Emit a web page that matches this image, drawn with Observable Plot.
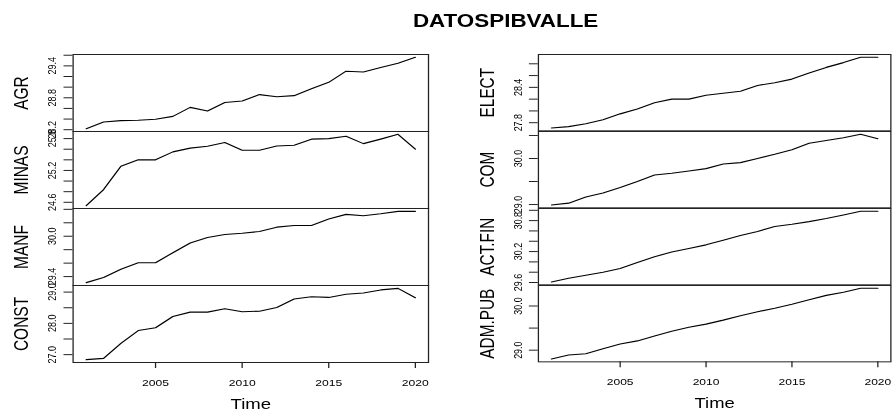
<!DOCTYPE html>
<html>
<head>
<meta charset="utf-8">
<script src="https://cdn.jsdelivr.net/npm/d3@7"></script>
<script src="https://cdn.jsdelivr.net/npm/@observablehq/plot@0.6"></script>
<style>
  html, body { margin: 0; padding: 0; background: #fff; overflow: hidden; }
  #chart {
    position: relative;
    width: 697px;
    height: 412px;
    transform: scaleX(1.28);
    transform-origin: 0 0;
    font-family: "Liberation Sans", Arial, sans-serif;
    color: #000;
  }
  #title {
    position: absolute;
    top: 13px;
    left: 0;
    width: 790px;
    text-align: center;
    font-size: 17.5px;
    line-height: 17.5px;
    font-weight: bold;
  }
  .panel { position: absolute; }
</style>
</head>
<body>
<div id="chart">
  <div id="title">DATOSPIBVALLE</div>
</div>
<script>
// Annual series (log scale), 2001–2020
const years = [2001, 2002, 2003, 2004, 2005, 2006, 2007, 2008, 2009, 2010,
               2011, 2012, 2013, 2014, 2015, 2016, 2017, 2018, 2019, 2020];

const AGR    = [28.22, 28.345, 28.37, 28.377, 28.396, 28.45, 28.62, 28.55, 28.71, 28.74,
                28.86, 28.82, 28.84, 28.97, 29.09, 29.30, 29.285, 29.37, 29.45, 29.56];
const MINAS  = [24.537, 24.84, 25.28, 25.40, 25.40, 25.55, 25.62, 25.655, 25.725, 25.58,
                25.58, 25.66, 25.675, 25.79, 25.80, 25.845, 25.705, 25.79, 25.88, 25.60];
const MANF   = [29.31, 29.385, 29.51, 29.605, 29.605, 29.755, 29.90, 29.98, 30.025, 30.045,
                30.07, 30.135, 30.16, 30.16, 30.255, 30.325, 30.305, 30.335, 30.37, 30.37];
const CONST  = [26.84, 26.88, 27.36, 27.77, 27.86, 28.22, 28.36, 28.36, 28.47, 28.37,
                28.39, 28.51, 28.78, 28.85, 28.83, 28.93, 28.97, 29.07, 29.12, 28.82];
const ELECT  = [27.71, 27.733, 27.783, 27.85, 27.95, 28.033, 28.14, 28.20, 28.20, 28.267,
                28.30, 28.333, 28.433, 28.478, 28.54, 28.644, 28.739, 28.82, 28.91, 28.91];
const COM    = [28.99, 29.03, 29.165, 29.25, 29.37, 29.50, 29.64, 29.68, 29.73, 29.78,
                29.88, 29.91, 30.00, 30.09, 30.19, 30.33, 30.39, 30.45, 30.525, 30.43];
const ACTFIN = [29.61, 29.683, 29.74, 29.80, 29.87, 29.99, 30.10, 30.19, 30.26, 30.33,
                30.42, 30.51, 30.59, 30.686, 30.73, 30.78, 30.84, 30.91, 30.98, 30.98];
const ADMPUB = [28.80, 28.89, 28.92, 29.03, 29.14, 29.21, 29.32, 29.43, 29.52, 29.59,
                29.68, 29.78, 29.87, 29.95, 30.04, 30.14, 30.24, 30.31, 30.40, 30.40];

// Tick positions and the subset that carries a label
const agrTicks    = [28.2, 28.4, 28.6, 28.8, 29.0, 29.2, 29.4, 29.6];
const agrLabels   = [28.2, 28.8, 29.4];
const minasTicks  = [24.6, 24.8, 25.0, 25.2, 25.4, 25.6, 25.8];
const minasLabels = [24.6, 25.2, 25.8];
const manfTicks   = [29.4, 29.6, 29.8, 30.0, 30.2, 30.4];
const manfLabels  = [29.4, 30.0];
const constTicks  = [27.0, 27.5, 28.0, 28.5, 29.0];
const constLabels = [27.0, 28.0, 29.0];
const electTicks  = [27.8, 28.0, 28.2, 28.4, 28.6, 28.8];
const electLabels = [27.8, 28.4];
const comTicks    = [29.0, 29.5, 30.0, 30.5];
const comLabels   = [29.0, 30.0];
const actfinTicks = [29.6, 29.8, 30.0, 30.2, 30.4, 30.6, 30.8, 31.0];
const actfinLabels= [29.6, 30.2, 30.8];
const admTicks    = [29.0, 29.5, 30.0];
const admLabels   = [29.0, 30.0];

const yearTicks = [2005, 2010, 2015, 2020];

const columns = [
  [["AGR", AGR, agrTicks, agrLabels],
   ["MINAS", MINAS, minasTicks, minasLabels],
   ["MANF", MANF, manfTicks, manfLabels],
   ["CONST", CONST, constTicks, constLabels]],
  [["ELECT", ELECT, electTicks, electLabels],
   ["COM", COM, comTicks, comLabels],
   ["ACT.FIN", ACTFIN, actfinTicks, actfinLabels],
   ["ADM.PUB", ADMPUB, admTicks, admLabels]]
];

// Layout (pre-stretch units)
const ML = 56.6, MR = 2, MT = 1;
const frameW = 277.7;
const panelH = 77;
const firstTop = 54;
const colLeft = [0, 363.5];
const fmt = d3.format(".1f");
const pad = 0.04;

function padded([a, b]) {
  const d = (b - a) * pad;
  return [a - d, b + d];
}

const chart = document.getElementById("chart");

columns.forEach((panels, c) => {
  panels.forEach(([name, values, ticks, labels], r) => {
    const bottom = r === panels.length - 1;
    const MB = bottom ? 49 : 1;
    const marks = [
      Plot.frame({stroke: "#222", strokeWidth: 1}),
      Plot.axisY({ticks, tickSize: 7, tickFormat: () => "", stroke: "#222"}),
      Plot.text(labels, {
        y: d => d, text: d => fmt(d), frameAnchor: "left", dx: -16,
        rotate: -90, textAnchor: "middle", lineAnchor: "middle", fontSize: 9, fill: "#000"
      }),
      Plot.text([name], {
        frameAnchor: "left", dx: -40, rotate: -90,
        textAnchor: "middle", lineAnchor: "middle", fontSize: 15.5, fill: "#000"
      }),
      Plot.line(years, {x: years, y: values, stroke: "#000", strokeWidth: 1.1})
    ];
    if (bottom) {
      marks.push(
        Plot.axisX({ticks: yearTicks, tickSize: 6, tickPadding: 10.8, tickFormat: d3.format("d"),
                    fontSize: 9.5, label: null, stroke: "#222"}),
        Plot.text(["Time"], {frameAnchor: "bottom", dy: 41.5, lineAnchor: "middle",
                             fontSize: 14.5, fill: "#000"})
      );
    }
    const plot = Plot.plot({
      width: ML + frameW + MR,
      height: MT + panelH + MB,
      marginLeft: ML, marginRight: MR, marginTop: MT, marginBottom: MB,
      style: {background: "transparent", overflow: "visible",
              fontFamily: "'Liberation Sans', Arial, sans-serif", color: "#000"},
      x: bottom ? {domain: padded(d3.extent(years))} : {domain: padded(d3.extent(years)), axis: null},
      y: {domain: padded(d3.extent(values))},
      marks
    });
    const wrap = document.createElement("div");
    wrap.className = "panel";
    wrap.style.left = colLeft[c] + "px";
    wrap.style.top = (firstTop + r * panelH - MT) + "px";
    wrap.appendChild(plot);
    chart.appendChild(wrap);
  });
});
</script>
</body>
</html>
